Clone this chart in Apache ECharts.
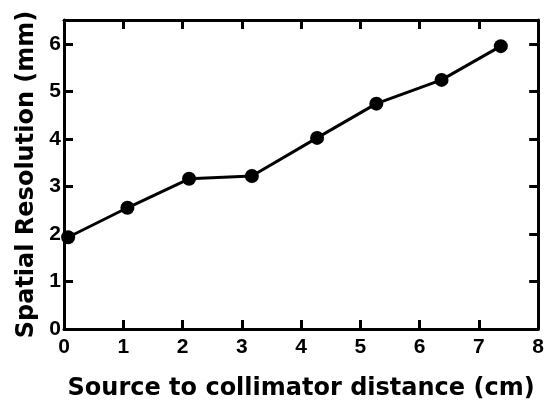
<!DOCTYPE html>
<html>
<head>
<meta charset="utf-8">
<script src="https://cdn.jsdelivr.net/npm/echarts@6/dist/echarts.min.js"></script>
<style>
  html, body { margin: 0; padding: 0; background: #fff; }
  #chart { width: 547px; height: 406px; }
</style>
</head>
<body>
<div id="chart"></div>
<script>
// Source-to-collimator distance (cm) and measured spatial resolution (mm)
const distance = [0.07, 1.07, 2.11, 3.17, 4.27, 5.27, 6.37, 7.37];
const resolution = [1.93, 2.55, 3.16, 3.22, 4.02, 4.74, 5.24, 5.95];

const xTitle = 'Source to collimator distance (cm)';
const yTitle = 'Spatial Resolution (mm)';

const points = distance.map((d, i) => [d, resolution[i]]);

const lineStyle = { color: '#000', width: 3 };
const labelFont = {
  color: '#000', fontSize: 21, fontWeight: 'bold',
  fontFamily: 'Liberation Sans, Arial, sans-serif'
};
const titleFont = {
  color: '#000', fontSize: 24, fontWeight: 'bold',
  fontFamily: 'DejaVu Sans, Verdana, sans-serif'
};

const chart = echarts.init(document.getElementById('chart'), null, { renderer: 'canvas' });
chart.setOption({
  animation: false,
  grid: { left: 64, right: 7, top: 20, bottom: 69, containLabel: false },
  xAxis: [
    {
      type: 'value', min: 0, max: 8, interval: 1,
      axisLine: { show: true, onZero: false, lineStyle },
      axisTick: { show: true, inside: true, length: 9, lineStyle },
      axisLabel: { ...labelFont, margin: 8 },
      splitLine: { show: false },
      name: xTitle, nameLocation: 'middle', nameGap: 48,
      nameTextStyle: titleFont
    },
    {
      type: 'value', position: 'top', min: 0, max: 8, interval: 1,
      axisLine: { show: true, onZero: false, lineStyle },
      axisTick: { show: true, inside: true, length: 9, lineStyle },
      axisLabel: { show: false },
      splitLine: { show: false }
    }
  ],
  yAxis: [
    {
      type: 'value', min: 0, max: 6.5, interval: 1,
      axisLine: { show: true, onZero: false, lineStyle },
      axisTick: { show: true, inside: true, length: 9, lineStyle },
      axisLabel: {
        ...labelFont, margin: 3,
        formatter: v => (Number.isInteger(v) ? String(v) : '')
      },
      splitLine: { show: false },
      name: yTitle, nameLocation: 'middle', nameGap: 25,
      nameTextStyle: titleFont
    },
    {
      type: 'value', position: 'right', min: 0, max: 6.5, interval: 1,
      axisLine: { show: true, onZero: false, lineStyle },
      axisTick: { show: true, inside: true, length: 9, lineStyle },
      axisLabel: { show: false },
      splitLine: { show: false }
    }
  ],
  series: [
    {
      type: 'line',
      data: points,
      xAxisIndex: 0, yAxisIndex: 0,
      symbol: 'circle', symbolSize: 14,
      itemStyle: { color: '#000' },
      lineStyle: { color: '#000', width: 3 }
    }
  ]
});
</script>
</body>
</html>
